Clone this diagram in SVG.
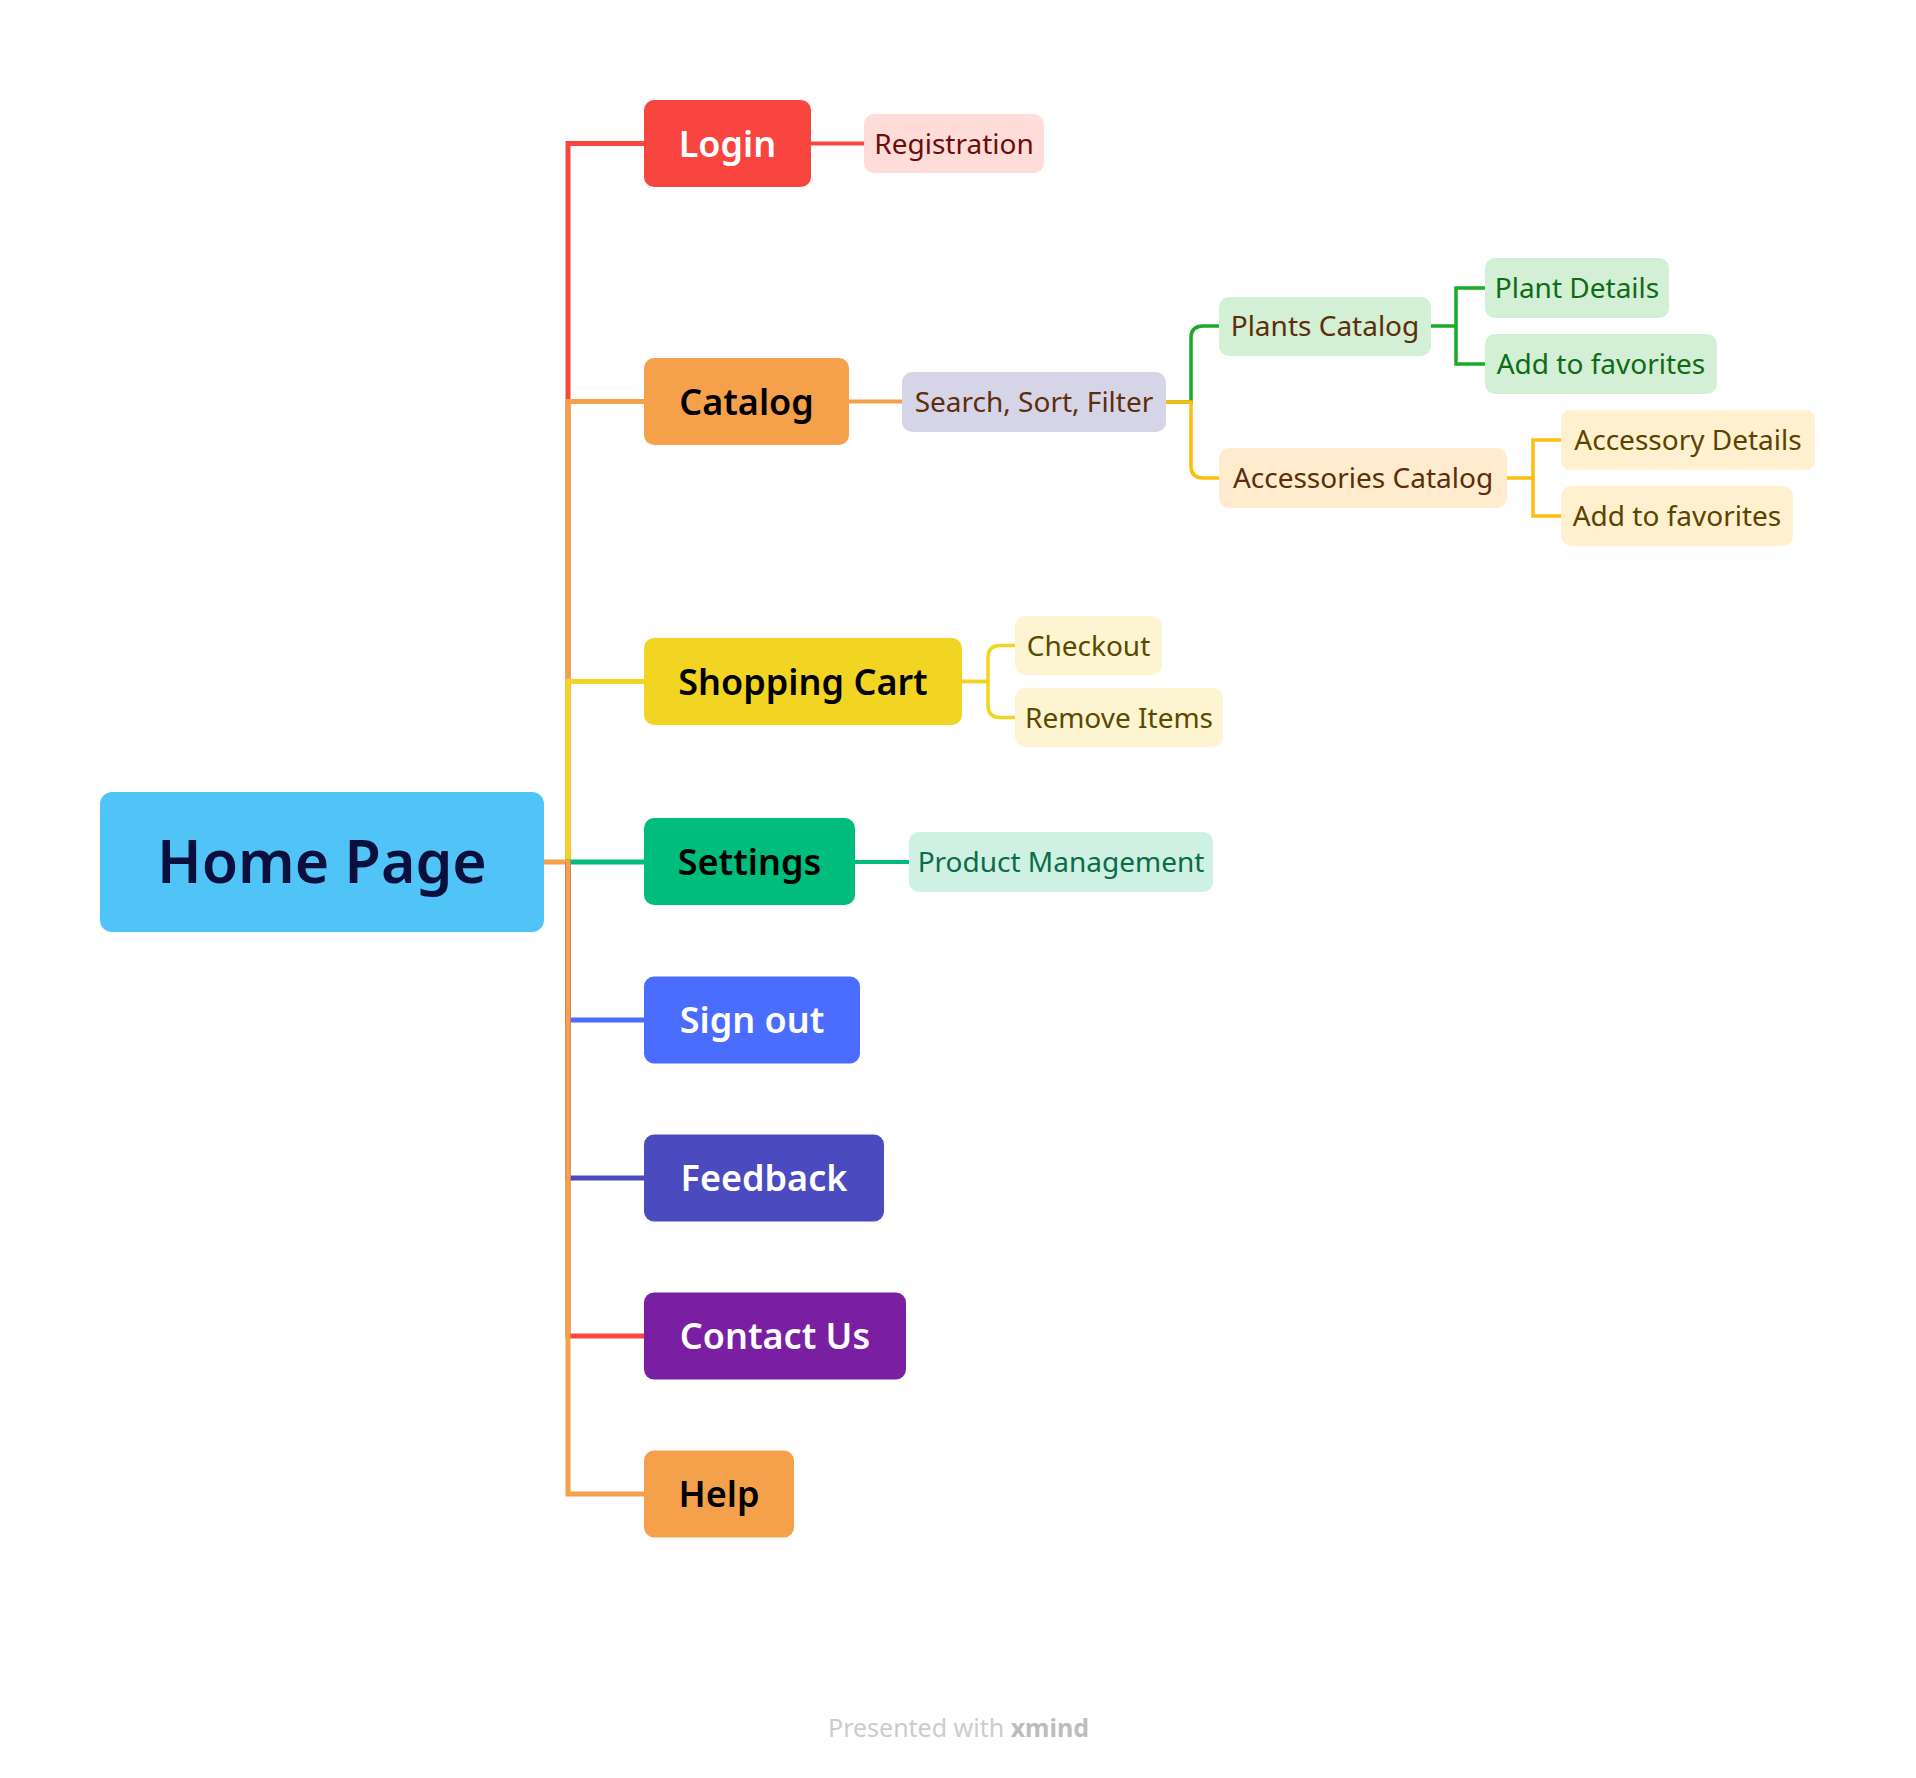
<svg xmlns="http://www.w3.org/2000/svg" width="1916" height="1778" viewBox="0 0 1916 1778">
<style>
.main{font-family:"Noto Sans","Liberation Sans",sans-serif;font-weight:600;font-size:36px;text-anchor:middle}
.root{font-family:"Noto Sans","Liberation Sans",sans-serif;font-weight:600;font-size:59px;text-anchor:middle;fill:#0B0F3D}
.sub{font-family:"Noto Sans","Liberation Sans",sans-serif;font-size:28px;text-anchor:middle}
.ln{fill:none;stroke-linejoin:miter;stroke-linecap:butt}
.l1{stroke-width:5}
.l2{stroke-width:4}
.l3{stroke-width:3.5}
.w{fill:#FFFFFF}
.k{fill:#000000}
.brown{fill:#5C2E0A}
</style>
<rect width="1916" height="1778" fill="#FFFFFF"/>
<g id="connectors">
  <path class="ln l1" d="M544 862 H570" stroke="#F5A14B"/>
  <path class="ln l1" d="M568 862 V143.5 H644" stroke="#F9453F"/>
  <path class="ln l1" d="M568 862 V401.5 H644" stroke="#F5A14B"/>
  <path class="ln l1" d="M568 862 V681.5 H644" stroke="#F2D422"/>
  <path class="ln l1" d="M566 862 H644" stroke="#00BD7D"/>
  <path class="ln l1" d="M568 862 V1020 H644" stroke="#4A6DFF"/>
  <path class="ln l1" d="M568 862 V1178 H644" stroke="#4C4ABF"/>
  <path class="ln l1" d="M568 862 V1336 H644" stroke="#F9453F"/>
  <path class="ln l1" d="M568 860 V1494 H644" stroke="#F5A14B"/>
  <path class="ln l2" d="M811 143.5 H864" stroke="#F9453F"/>
  <path class="ln l2" d="M849 401.5 H902" stroke="#F5A14B"/>
  <path class="ln l3" d="M1166 402 H1191 V338 Q1191 326 1203 326 H1219" stroke="#1AAA2A"/>
  <path class="ln l3" d="M1166 402 H1191 V466 Q1191 478 1203 478 H1219" stroke="#FDBF0F"/>
  <path class="ln l3" d="M1431 326 H1456 V288 H1485 M1456 326 V364 H1485" stroke="#1AAA2A"/>
  <path class="ln l3" d="M1507 478 H1533 V440 H1561 M1533 478 V516 H1561" stroke="#FDBF0F"/>
  <path class="ln l3" d="M962 681.5 H988 V657.5 Q988 645.5 1000 645.5 H1015" stroke="#F2D422"/>
  <path class="ln l3" d="M962 681.5 H988 V705.5 Q988 717.5 1000 717.5 H1015" stroke="#F2D422"/>
  <path class="ln l2" d="M855 862 H909" stroke="#00BD7D"/>
</g>
<g id="home-page">
  <rect x="100" y="792" width="444" height="140" rx="12" fill="#50C4F6"/>
  <text class="root" x="322" y="883">Home Page</text>
</g>
<g id="login">
  <rect x="644" y="100" width="167" height="87" rx="10" fill="#F9453F"/>
  <text class="main w" x="727.5" y="156.5">Login</text>
</g>
<g id="registration">
  <rect x="864" y="114" width="180" height="59" rx="10" fill="#FDDCDA"/>
  <text class="sub" x="954" y="153.5" fill="#6E0D07">Registration</text>
</g>
<g id="catalog">
  <rect x="644" y="358" width="205" height="87" rx="10" fill="#F5A14B"/>
  <text class="main k" x="746.5" y="414.5">Catalog</text>
</g>
<g id="search-sort-filter">
  <rect x="902" y="372" width="264" height="60" rx="10" fill="#D5D5E7"/>
  <text class="sub brown" x="1034" y="412">Search, Sort, Filter</text>
</g>
<g id="plants-catalog">
  <rect x="1219" y="297" width="212" height="59" rx="10" fill="#D3EFD5"/>
  <text class="sub brown" x="1325" y="336">Plants Catalog</text>
</g>
<g id="plant-details">
  <rect x="1485" y="258" width="184" height="60" rx="10" fill="#D3EFD5"/>
  <text class="sub" x="1577" y="298" fill="#0F6B17">Plant Details</text>
</g>
<g id="plant-add-favorites">
  <rect x="1485" y="334" width="232" height="60" rx="10" fill="#D3EFD5"/>
  <text class="sub" x="1601" y="374" fill="#0F6B17">Add to favorites</text>
</g>
<g id="accessories-catalog">
  <rect x="1219" y="448" width="288" height="60" rx="10" fill="#FFEBCD"/>
  <text class="sub brown" x="1363" y="488">Accessories Catalog</text>
</g>
<g id="accessory-details">
  <rect x="1561" y="410" width="254" height="60" rx="10" fill="#FFF1CF"/>
  <text class="sub" x="1688" y="450" fill="#5C4300">Accessory Details</text>
</g>
<g id="accessory-add-favorites">
  <rect x="1561" y="486" width="232" height="60" rx="10" fill="#FFF1CF"/>
  <text class="sub" x="1677" y="526" fill="#5C4300">Add to favorites</text>
</g>
<g id="shopping-cart">
  <rect x="644" y="638" width="318" height="87" rx="10" fill="#F2D422"/>
  <text class="main k" x="803" y="694.5">Shopping Cart</text>
</g>
<g id="checkout">
  <rect x="1015" y="616" width="147" height="59" rx="10" fill="#FDF5D2"/>
  <text class="sub" x="1088.5" y="655.5" fill="#5A4A00">Checkout</text>
</g>
<g id="remove-items">
  <rect x="1015" y="688" width="208" height="59" rx="10" fill="#FDF5D2"/>
  <text class="sub" x="1119" y="727.5" fill="#5A4A00">Remove Items</text>
</g>
<g id="settings">
  <rect x="644" y="818" width="211" height="87" rx="10" fill="#00BD7D"/>
  <text class="main k" x="749.5" y="875">Settings</text>
</g>
<g id="product-management">
  <rect x="909" y="832" width="304" height="60" rx="10" fill="#CEF1E4"/>
  <text class="sub" x="1061" y="872" fill="#0C6B48">Product Management</text>
</g>
<g id="sign-out">
  <rect x="644" y="976.5" width="216" height="87" rx="10" fill="#4A6DFF"/>
  <text class="main w" x="752" y="1033">Sign out</text>
</g>
<g id="feedback">
  <rect x="644" y="1134.5" width="240" height="87" rx="10" fill="#4C4ABF"/>
  <text class="main w" x="764" y="1191">Feedback</text>
</g>
<g id="contact-us">
  <rect x="644" y="1292.5" width="262" height="87" rx="10" fill="#7B1FA2"/>
  <text class="main w" x="775" y="1349">Contact Us</text>
</g>
<g id="help">
  <rect x="644" y="1450.5" width="150" height="87" rx="10" fill="#F5A14B"/>
  <text class="main k" x="719" y="1507">Help</text>
</g>
<g id="footer">
  <text x="828" y="1737" font-family="'Noto Sans','Liberation Sans',sans-serif" font-size="25" fill="#CCCCCC">Presented with <tspan font-weight="bold" fill="#BDBDBD">xmind</tspan></text>
</g>
</svg>
